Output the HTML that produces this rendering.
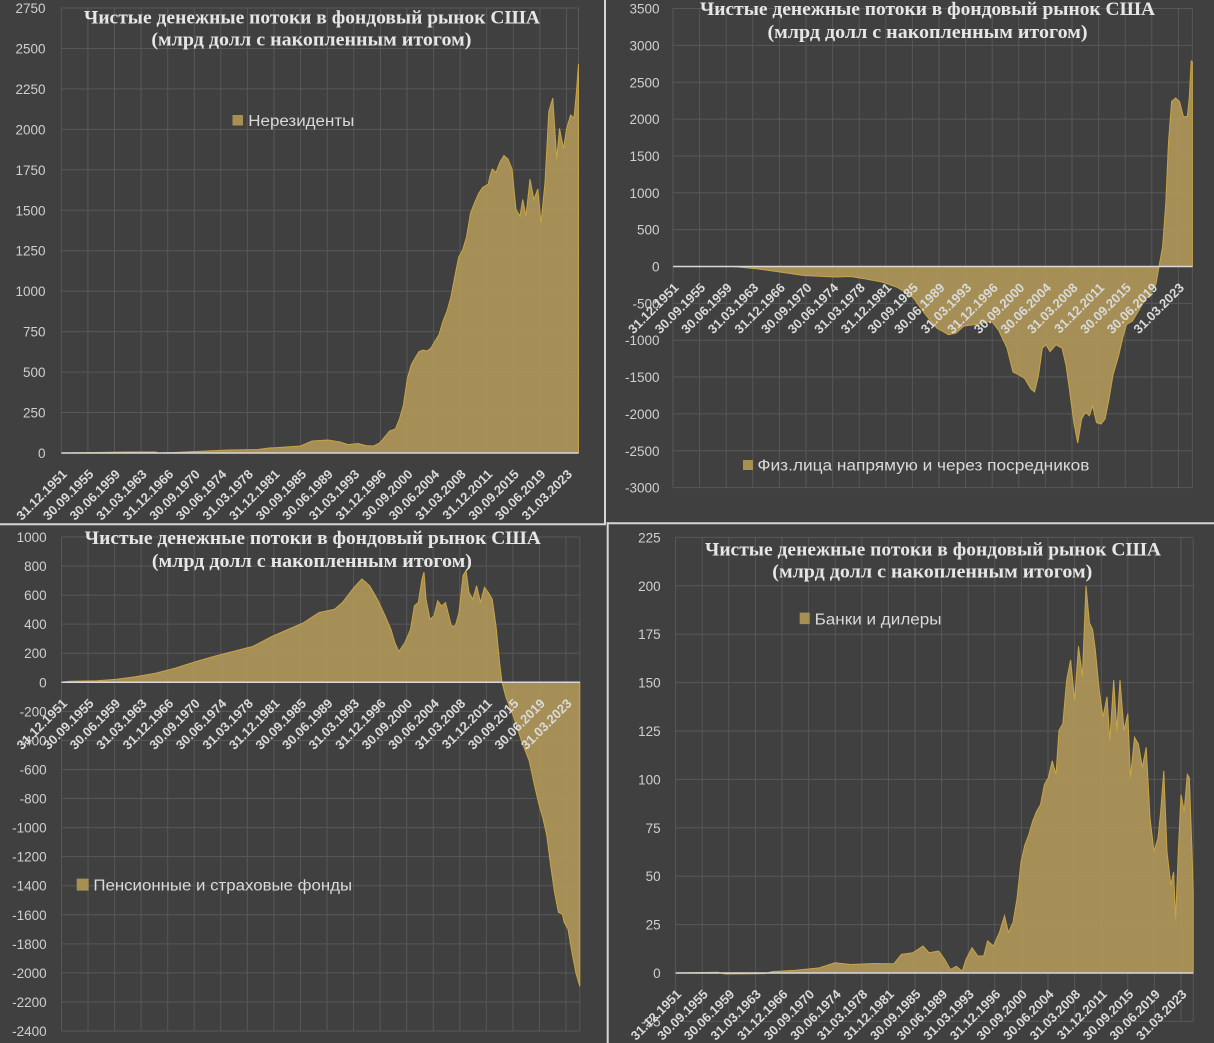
<!DOCTYPE html>
<html><head><meta charset="utf-8"><style>
html,body{margin:0;padding:0;background:#404040;}
svg{display:block;}
.yl{font-family:"Liberation Sans",sans-serif;font-size:13.5px;fill:#cfcfcf;text-anchor:end;}
.xl{font-family:"Liberation Sans",sans-serif;font-size:13px;font-weight:bold;fill:#dadada;text-anchor:end;}
.ti{font-family:"Liberation Serif",serif;font-size:18.5px;font-weight:bold;fill:#e6e6e6;text-anchor:middle;}
.lg{font-family:"Liberation Sans",sans-serif;font-size:15.5px;fill:#dadada;}
.gr{stroke:#575757;stroke-width:1;fill:none;}
.ar{fill:#b39a5a;fill-opacity:0.88;stroke:#c7a445;stroke-width:1;}
.ax{stroke:#d9d9d9;stroke-width:1.5;}
</style></head><body>
<svg width="1214" height="1043" viewBox="0 0 1214 1043" xmlns="http://www.w3.org/2000/svg">
<rect width="1214" height="1043" fill="#404040"/>

<!-- ============ PANEL 1 ============ -->
<path class="gr" d="M61.3,8H578.5M61.3,48.5H578.5M61.3,88.9H578.5M61.3,129.4H578.5M61.3,169.8H578.5M61.3,210.3H578.5M61.3,250.7H578.5M61.3,291.2H578.5M61.3,331.6H578.5M61.3,372.1H578.5M61.3,412.5H578.5
M61.3,8V453M87.9,8V453M114.5,8V453M141.1,8V453M167.7,8V453M194.3,8V453M220.8,8V453M247.4,8V453M274,8V453M300.6,8V453M327.2,8V453M353.8,8V453M380.4,8V453M407,8V453M433.6,8V453M460.1,8V453M486.7,8V453M513.3,8V453M539.9,8V453M566.5,8V453M578.5,8V453"/>
<path class="ar" d="M61.3,453 L128,452 L156,452 L158,453 L174,452.5 L205.6,451 L229,450 L257,449.6 L269,448 L277,447.6 L300.5,446 L312,441 L328,440 L340,442 L348,444.6 L358,443.5 L366,445.6 L373.7,446 L379.6,443 L385.5,436 L389.5,431 L395.4,429 L399.4,419 L403.3,405.7 L407.3,378.6 L411.2,365 L415,358 L419,351.6 L423,350 L427,351 L431,348 L435,341 L439,334.7 L443,321 L447,311 L450.8,297.5 L454.7,277 L458.7,257 L462.6,250 L466.6,236.6 L470.5,213 L474.5,203 L478.4,194 L482.4,187.6 L488.3,184 L490,176 L492.3,169 L496,172.4 L500,162 L504,155.5 L508,159 L512,169 L516,209.6 L520,216 L522.7,199.5 L526,216 L530,179 L533.8,199.5 L537.8,189 L541,223 L545,182.6 L548.8,111.6 L552.8,98 L556.7,159 L559.5,128.5 L563.5,148.7 L566.6,128.5 L570.6,115 L574,118 L576.5,91 L578.5,64 L578.5,453 Z"/>
<line class="ax" x1="61.3" y1="453" x2="578.5" y2="453"/>
<g class="yl">
<text x="45.5" y="13">2750</text><text x="45.5" y="53.5">2500</text><text x="45.5" y="93.9">2250</text><text x="45.5" y="134.4">2000</text><text x="45.5" y="174.8">1750</text><text x="45.5" y="215.3">1500</text><text x="45.5" y="255.7">1250</text><text x="45.5" y="296.2">1000</text><text x="45.5" y="336.6">750</text><text x="45.5" y="377.1">500</text><text x="45.5" y="417.5">250</text><text x="45.5" y="458">0</text>
</g>
<g class="xl">
<text transform="translate(67.8,475) rotate(-45)">31.12.1951</text>
<text transform="translate(94.4,475) rotate(-45)">30.09.1955</text>
<text transform="translate(121,475) rotate(-45)">30.06.1959</text>
<text transform="translate(147.6,475) rotate(-45)">31.03.1963</text>
<text transform="translate(174.2,475) rotate(-45)">31.12.1966</text>
<text transform="translate(200.8,475) rotate(-45)">30.09.1970</text>
<text transform="translate(227.3,475) rotate(-45)">30.06.1974</text>
<text transform="translate(253.9,475) rotate(-45)">31.03.1978</text>
<text transform="translate(280.5,475) rotate(-45)">31.12.1981</text>
<text transform="translate(307.1,475) rotate(-45)">30.09.1985</text>
<text transform="translate(333.7,475) rotate(-45)">30.06.1989</text>
<text transform="translate(360.3,475) rotate(-45)">31.03.1993</text>
<text transform="translate(386.9,475) rotate(-45)">31.12.1996</text>
<text transform="translate(413.5,475) rotate(-45)">30.09.2000</text>
<text transform="translate(440.1,475) rotate(-45)">30.06.2004</text>
<text transform="translate(466.6,475) rotate(-45)">31.03.2008</text>
<text transform="translate(493.2,475) rotate(-45)">31.12.2011</text>
<text transform="translate(519.8,475) rotate(-45)">30.09.2015</text>
<text transform="translate(546.4,475) rotate(-45)">30.06.2019</text>
<text transform="translate(573,475) rotate(-45)">31.03.2023</text>
</g>
<text class="ti" x="312" y="23.5" textLength="456" lengthAdjust="spacingAndGlyphs">Чистые денежные потоки в фондовый рынок США</text>
<text class="ti" x="311.4" y="45.5" textLength="320" lengthAdjust="spacingAndGlyphs">(млрд долл с накопленным итогом)</text>
<rect x="232.5" y="115" width="10.5" height="10.5" fill="#a68f52"/>
<text class="lg" x="248.3" y="125.8" textLength="106" lengthAdjust="spacingAndGlyphs">Нерезиденты</text>

<!-- ============ PANEL 2 ============ -->
<path class="gr" d="M673,8.55H1192.4M673,45.4H1192.4M673,82.25H1192.4M673,119.1H1192.4M673,155.95H1192.4M673,192.8H1192.4M673,229.65H1192.4M673,303.35H1192.4M673,340.2H1192.4M673,377.05H1192.4M673,413.9H1192.4M673,450.75H1192.4M673,487.6H1192.4
M673,8.5V487.6M699.6,8.5V487.6M726.2,8.5V487.6M752.8,8.5V487.6M779.4,8.5V487.6M806,8.5V487.6M832.6,8.5V487.6M859.2,8.5V487.6M885.8,8.5V487.6M912.4,8.5V487.6M939,8.5V487.6M965.6,8.5V487.6M992.2,8.5V487.6M1018.8,8.5V487.6M1045.4,8.5V487.6M1072,8.5V487.6M1098.6,8.5V487.6M1125.2,8.5V487.6M1151.8,8.5V487.6M1178.4,8.5V487.6M1192.4,8.5V487.6"/>
<path class="ar" d="M673.2,266.5 L733,266.5 L756.6,268.8 L780,272 L803.6,275.5 L835,277 L850.6,276.5 L866,279 L882,282 L897.6,287.4 L913,297.5 L925,314 L936.7,328 L948.5,334.7 L956,333 L964,326 L976,324.5 L991.5,321 L999,331 L1007,348 L1013,372 L1019,375 L1024.8,378.6 L1030.7,388.8 L1034.6,392 L1038.5,375 L1042.4,348 L1046,344.8 L1050,351.6 L1056,344.8 L1062,348 L1066,365 L1069.8,392 L1073.8,422.6 L1077.7,443 L1081.6,419 L1085.5,412.4 L1089.4,415.8 L1092.6,405.7 L1096.5,422.6 L1101,424 L1105,419 L1109,399 L1113,375 L1118.8,355 L1122.7,338 L1126.6,324.5 L1132.5,321 L1138.4,311 L1144.2,301 L1150,294 L1156,284 L1159,266.5 L1162.6,246.8 L1165.8,202.8 L1168.5,142 L1171.6,101.4 L1175.6,98 L1179.5,101.4 L1183.4,116.6 L1187.3,116.6 L1189.3,98 L1191.2,60.9 L1192.4,62 L1192.4,266.5 Z"/>
<line class="ax" x1="673" y1="266.5" x2="1192.4" y2="266.5"/>
<g class="yl">
<text x="659.5" y="13.5">3500</text><text x="659.5" y="50.4">3000</text><text x="659.5" y="87.3">2500</text><text x="659.5" y="124.1">2000</text><text x="659.5" y="161">1500</text><text x="659.5" y="197.8">1000</text><text x="659.5" y="234.7">500</text><text x="659.5" y="271.5">0</text><text x="659.5" y="308.4">-500</text><text x="659.5" y="345.2">-1000</text><text x="659.5" y="382.1">-1500</text><text x="659.5" y="418.9">-2000</text><text x="659.5" y="455.8">-2500</text><text x="659.5" y="492.6">-3000</text>
</g>
<g class="xl">
<text transform="translate(679.5,288.5) rotate(-45)">31.12.1951</text>
<text transform="translate(706.1,288.5) rotate(-45)">30.09.1955</text>
<text transform="translate(732.7,288.5) rotate(-45)">30.06.1959</text>
<text transform="translate(759.3,288.5) rotate(-45)">31.03.1963</text>
<text transform="translate(785.9,288.5) rotate(-45)">31.12.1966</text>
<text transform="translate(812.5,288.5) rotate(-45)">30.09.1970</text>
<text transform="translate(839.1,288.5) rotate(-45)">30.06.1974</text>
<text transform="translate(865.7,288.5) rotate(-45)">31.03.1978</text>
<text transform="translate(892.3,288.5) rotate(-45)">31.12.1981</text>
<text transform="translate(918.9,288.5) rotate(-45)">30.09.1985</text>
<text transform="translate(945.5,288.5) rotate(-45)">30.06.1989</text>
<text transform="translate(972.1,288.5) rotate(-45)">31.03.1993</text>
<text transform="translate(998.7,288.5) rotate(-45)">31.12.1996</text>
<text transform="translate(1025.3,288.5) rotate(-45)">30.09.2000</text>
<text transform="translate(1051.9,288.5) rotate(-45)">30.06.2004</text>
<text transform="translate(1078.5,288.5) rotate(-45)">31.03.2008</text>
<text transform="translate(1105.1,288.5) rotate(-45)">31.12.2011</text>
<text transform="translate(1131.7,288.5) rotate(-45)">30.09.2015</text>
<text transform="translate(1158.3,288.5) rotate(-45)">30.06.2019</text>
<text transform="translate(1184.9,288.5) rotate(-45)">31.03.2023</text>
</g>
<text class="ti" x="927.5" y="15" textLength="455" lengthAdjust="spacingAndGlyphs">Чистые денежные потоки в фондовый рынок США</text>
<text class="ti" x="927.5" y="38" textLength="320" lengthAdjust="spacingAndGlyphs">(млрд долл с накопленным итогом)</text>
<rect x="743" y="460" width="10" height="10" fill="#a68f52"/>
<text class="lg" x="757.4" y="470.5" textLength="332" lengthAdjust="spacingAndGlyphs">Физ.лица напрямую и через посредников</text>

<!-- ============ PANEL 3 ============ -->
<path class="gr" d="M61.5,537H579.8M61.5,566.06H579.8M61.5,595.12H579.8M61.5,624.18H579.8M61.5,653.24H579.8M61.5,711.36H579.8M61.5,740.42H579.8M61.5,769.48H579.8M61.5,798.54H579.8M61.5,827.6H579.8M61.5,856.66H579.8M61.5,885.72H579.8M61.5,914.78H579.8M61.5,943.84H579.8M61.5,972.9H579.8M61.5,1001.96H579.8M61.5,1031H579.8
M61.5,537V1031M88.05,537V1031M114.6,537V1031M141.15,537V1031M167.7,537V1031M194.25,537V1031M220.8,537V1031M247.35,537V1031M273.9,537V1031M300.45,537V1031M327,537V1031M353.55,537V1031M380.1,537V1031M406.65,537V1031M433.2,537V1031M459.75,537V1031M486.3,537V1031M512.85,537V1031M539.4,537V1031M565.95,537V1031M579.8,537V1031"/>
<path class="ar" d="M61.5,682.3 L70,681.3 L97.3,680.7 L116.7,679.3 L136.2,676.6 L155.6,673.2 L175,668.2 L194.6,662 L214,656.4 L233.5,651.4 L253,646.3 L272.4,636.2 L288,629.5 L303.5,622.7 L319,612.6 L334.6,609.3 L342.4,602.5 L354,587.4 L361.9,579 L369.6,585.7 L377.4,599.2 L385.2,616 L391,629.5 L395,643 L398.8,651.4 L404.7,643 L410.5,629.5 L414.4,605.9 L418.3,602.5 L422,579 L424,572.2 L426,599.2 L430,619.4 L433.9,616 L437.7,600.8 L441.6,606 L445.5,602.5 L451.4,626 L455.3,626 L459,612.6 L463,575.6 L466,570.6 L469,592.4 L472.8,599.2 L476.6,585.7 L480.5,602.5 L484.4,587.4 L488.3,592.4 L492.2,599.2 L496,626 L500,666.5 L502,682.3 L505.8,696.8 L513.6,717 L521.4,740.6 L529.2,760.8 L535,787.7 L539,804.6 L542.8,818 L546.7,834.9 L550.6,865.2 L554.5,892 L558.4,912.3 L562.3,914 L564.2,922.4 L568,929 L572,952.7 L575.9,973 L579.8,986.4 L579.8,682.3 Z"/>
<line class="ax" x1="61.5" y1="682.3" x2="579.8" y2="682.3"/>
<g class="yl">
<text x="46.7" y="542">1000</text><text x="46.7" y="571.1">800</text><text x="46.7" y="600.1">600</text><text x="46.7" y="629.2">400</text><text x="46.7" y="658.2">200</text><text x="46.7" y="687.3">0</text><text x="46.7" y="716.4">-200</text><text x="46.7" y="745.4">-400</text><text x="46.7" y="774.5">-600</text><text x="46.7" y="803.5">-800</text><text x="46.7" y="832.6">-1000</text><text x="46.7" y="861.7">-1200</text><text x="46.7" y="890.7">-1400</text><text x="46.7" y="919.8">-1600</text><text x="46.7" y="948.8">-1800</text><text x="46.7" y="977.9">-2000</text><text x="46.7" y="1007">-2200</text><text x="46.7" y="1036">-2400</text>
</g>
<g class="xl">
<text transform="translate(68,704.3) rotate(-45)">31.12.1951</text>
<text transform="translate(94.55,704.3) rotate(-45)">30.09.1955</text>
<text transform="translate(121.1,704.3) rotate(-45)">30.06.1959</text>
<text transform="translate(147.65,704.3) rotate(-45)">31.03.1963</text>
<text transform="translate(174.2,704.3) rotate(-45)">31.12.1966</text>
<text transform="translate(200.75,704.3) rotate(-45)">30.09.1970</text>
<text transform="translate(227.3,704.3) rotate(-45)">30.06.1974</text>
<text transform="translate(253.85,704.3) rotate(-45)">31.03.1978</text>
<text transform="translate(280.4,704.3) rotate(-45)">31.12.1981</text>
<text transform="translate(306.95,704.3) rotate(-45)">30.09.1985</text>
<text transform="translate(333.5,704.3) rotate(-45)">30.06.1989</text>
<text transform="translate(360.05,704.3) rotate(-45)">31.03.1993</text>
<text transform="translate(386.6,704.3) rotate(-45)">31.12.1996</text>
<text transform="translate(413.15,704.3) rotate(-45)">30.09.2000</text>
<text transform="translate(439.7,704.3) rotate(-45)">30.06.2004</text>
<text transform="translate(466.25,704.3) rotate(-45)">31.03.2008</text>
<text transform="translate(492.8,704.3) rotate(-45)">31.12.2011</text>
<text transform="translate(519.35,704.3) rotate(-45)">30.09.2015</text>
<text transform="translate(545.9,704.3) rotate(-45)">30.06.2019</text>
<text transform="translate(572.45,704.3) rotate(-45)">31.03.2023</text>
</g>
<text class="ti" x="312.8" y="544" textLength="456" lengthAdjust="spacingAndGlyphs">Чистые денежные потоки в фондовый рынок США</text>
<text class="ti" x="311.9" y="567" textLength="320" lengthAdjust="spacingAndGlyphs">(млрд долл с накопленным итогом)</text>
<rect x="76.7" y="878.6" width="12" height="12" fill="#a68f52"/>
<text class="lg" x="93.4" y="890.5" textLength="258.7" lengthAdjust="spacingAndGlyphs">Пенсионные и страховые фонды</text>

<!-- ============ PANEL 4 ============ -->
<path class="gr" d="M675.6,537.4H1193.2M675.6,585.8H1193.2M675.6,634.2H1193.2M675.6,682.6H1193.2M675.6,731H1193.2M675.6,779.4H1193.2M675.6,827.8H1193.2M675.6,876.2H1193.2M675.6,924.6H1193.2M675.6,1021.4H1193.2
M675.6,537.4V1021.4M702.2,537.4V1021.4M728.8,537.4V1021.4M755.4,537.4V1021.4M782,537.4V1021.4M808.6,537.4V1021.4M835.2,537.4V1021.4M861.8,537.4V1021.4M888.4,537.4V1021.4M915,537.4V1021.4M941.6,537.4V1021.4M968.2,537.4V1021.4M994.8,537.4V1021.4M1021.4,537.4V1021.4M1048,537.4V1021.4M1074.6,537.4V1021.4M1101.2,537.4V1021.4M1127.8,537.4V1021.4M1154.4,537.4V1021.4M1181,537.4V1021.4M1193.2,537.4V1021.4"/>
<path class="ar" d="M675.6,973 L717.5,972.3 L725.3,974 L764.4,973.6 L772.3,971.6 L795.8,970.2 L819.3,967.9 L835,962.8 L850.6,964.5 L874,963.5 L893.7,963.8 L901.5,954.4 L913,952.7 L923,946 L929,952.7 L938.7,951 L944.6,959.4 L950.4,969.5 L956.3,966.2 L962.2,971.2 L966,959.4 L972,947.7 L977.8,956 L983.7,956 L987.6,940.9 L993.5,946 L999.4,932.5 L1004.5,915.7 L1008.4,932.5 L1013,922.4 L1017,898.8 L1021,861.8 L1024.8,845 L1028.7,835 L1032.6,821.4 L1036.6,811.3 L1040.5,804.6 L1044.4,784.4 L1048.3,777.6 L1052.2,760.8 L1056,774.3 L1059,730.5 L1062.8,723.8 L1066.7,680 L1070.6,659.8 L1074.6,700.2 L1078.5,646.3 L1082.4,676.6 L1086,585.7 L1089.4,622.7 L1092.6,629.5 L1095.3,649.7 L1099.2,690 L1103,717 L1107,696.8 L1109.8,740.6 L1113.7,680 L1116.8,730.5 L1120,680 L1124,730.5 L1127.8,713.6 L1130.5,777.6 L1134.5,737.2 L1138.4,744 L1142.3,767.5 L1146.2,747.3 L1150,818 L1154,851.7 L1158,838.2 L1160.7,811.3 L1163.8,770.9 L1167,851.7 L1170.9,885.4 L1173.6,871.9 L1175.6,919 L1178.3,851.7 L1181,794.5 L1184.2,811.3 L1187.3,774.3 L1189.3,777.6 L1192,851.7 L1193.2,892 L1193.2,973 Z"/>
<line class="ax" x1="675.6" y1="973" x2="1193.2" y2="973"/>
<g class="yl">
<text x="660.7" y="542.4">225</text><text x="660.7" y="590.8">200</text><text x="660.7" y="639.2">175</text><text x="660.7" y="687.6">150</text><text x="660.7" y="736">125</text><text x="660.7" y="784.4">100</text><text x="660.7" y="832.8">75</text><text x="660.7" y="881.2">50</text><text x="660.7" y="929.6">25</text><text x="660.7" y="978">0</text><text x="660.7" y="1026.4">-25</text>
</g>
<g class="xl">
<text transform="translate(682.1,995) rotate(-45)">31.12.1951</text>
<text transform="translate(708.7,995) rotate(-45)">30.09.1955</text>
<text transform="translate(735.3,995) rotate(-45)">30.06.1959</text>
<text transform="translate(761.9,995) rotate(-45)">31.03.1963</text>
<text transform="translate(788.5,995) rotate(-45)">31.12.1966</text>
<text transform="translate(815.1,995) rotate(-45)">30.09.1970</text>
<text transform="translate(841.7,995) rotate(-45)">30.06.1974</text>
<text transform="translate(868.3,995) rotate(-45)">31.03.1978</text>
<text transform="translate(894.9,995) rotate(-45)">31.12.1981</text>
<text transform="translate(921.5,995) rotate(-45)">30.09.1985</text>
<text transform="translate(948.1,995) rotate(-45)">30.06.1989</text>
<text transform="translate(974.7,995) rotate(-45)">31.03.1993</text>
<text transform="translate(1001.3,995) rotate(-45)">31.12.1996</text>
<text transform="translate(1027.9,995) rotate(-45)">30.09.2000</text>
<text transform="translate(1054.5,995) rotate(-45)">30.06.2004</text>
<text transform="translate(1081.1,995) rotate(-45)">31.03.2008</text>
<text transform="translate(1107.7,995) rotate(-45)">31.12.2011</text>
<text transform="translate(1134.3,995) rotate(-45)">30.09.2015</text>
<text transform="translate(1160.9,995) rotate(-45)">30.06.2019</text>
<text transform="translate(1187.5,995) rotate(-45)">31.03.2023</text>
</g>
<text class="ti" x="933" y="555.5" textLength="456" lengthAdjust="spacingAndGlyphs">Чистые денежные потоки в фондовый рынок США</text>
<text class="ti" x="932.3" y="577.5" textLength="320" lengthAdjust="spacingAndGlyphs">(млрд долл с накопленным итогом)</text>
<rect x="799.7" y="612.6" width="10" height="11.5" fill="#a68f52"/>
<text class="lg" x="814.6" y="624.5" textLength="127" lengthAdjust="spacingAndGlyphs">Банки и дилеры</text>

<!-- ============ DIVIDERS ============ -->
<line x1="605" y1="0" x2="605" y2="525" stroke="#d6d6d6" stroke-width="2"/>
<line x1="0" y1="524.2" x2="606" y2="524.2" stroke="#d6d6d6" stroke-width="2"/>
<line x1="607.7" y1="522.3" x2="607.7" y2="1043" stroke="#d6d6d6" stroke-width="2"/>
<line x1="606.7" y1="523.3" x2="1214" y2="523.3" stroke="#d6d6d6" stroke-width="2"/>
</svg>
</body></html>
